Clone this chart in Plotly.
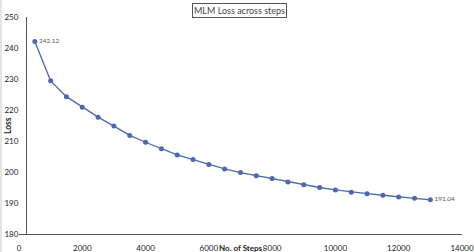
import plotly.graph_objects as go

steps = [500, 1000, 1500, 2000, 2500, 3000, 3500, 4000, 4500, 5000, 5500, 6000, 6500,
         7000, 7500, 8000, 8500, 9000, 9500, 10000, 10500, 11000, 11500, 12000, 12500, 13000]
loss = [242.12, 229.4, 224.3, 220.9, 217.7, 214.8, 211.8, 209.6, 207.5, 205.5, 204.0, 202.4, 201.0,
        199.8, 198.8, 197.9, 196.8, 195.9, 195.0, 194.2, 193.5, 193.0, 192.5, 191.9, 191.5, 191.04]
labels = ["242.12"] + [""] * (len(loss) - 2) + ["191.04"]
x_ticks = [0, 2000, 4000, 6000, 8000, 10000, 12000, 14000]
y_ticks = [180, 190, 200, 210, 220, 230, 240, 250]

W, H = 474, 252
L, R, T, B = 19, 12, 17, 18
pw = W - L - R
ph = H - T - B
axis_x = (26 - L) / pw

font = "Lato, sans-serif"
tick_font = dict(size=8, color="#222222", family=font)
fig = go.Figure()
fig.add_trace(go.Scatter(
    x=steps, y=loss, mode="lines+markers+text",
    line=dict(color="#4a69b0", width=1.3),
    marker=dict(color="#4a69b0", size=5),
    text=labels, textposition="middle right",
    textfont=dict(size=6.5, color="#555555", family=font),
    cliponaxis=False,
))

fig.update_layout(
    template="none",
    width=W, height=H,
    margin=dict(l=L, r=R, t=T, b=B, pad=0),
    paper_bgcolor="white", plot_bgcolor="white",
    showlegend=False,
    xaxis=dict(range=[0, 14000], tickvals=x_ticks, ticktext=[str(v) for v in x_ticks],
               showgrid=False, zeroline=False, automargin=False, ticklabeloverflow="allow",
               showline=True, linecolor="#555555", linewidth=1.2,
               ticks="outside", ticklen=6, tickcolor="rgba(0,0,0,0)", tickfont=tick_font),
    yaxis=dict(range=[180, 250], tickvals=y_ticks, ticktext=[str(v) for v in y_ticks],
               showgrid=False, zeroline=False, automargin=False, ticklabeloverflow="allow",
               anchor="free", position=axis_x,
               showline=True, linecolor="#555555", linewidth=1.2,
               ticks="outside", ticklen=6, tickcolor="rgba(0,0,0,0)", tickfont=tick_font),
    shapes=[
        dict(type="line", xref="paper", yref="paper", x0=-(L - 1) / pw, x1=-(L - 1) / pw,
             y0=-B / ph, y1=1 + T / ph, line=dict(color="#e4e4e4", width=2)),
    ],
    annotations=[
        dict(text="MLM Loss across steps", xref="paper", yref="paper",
             x=(239 - L) / pw, y=1 + (T - 11) / ph, xanchor="center", yanchor="middle",
             showarrow=False, font=dict(size=9, color="#444444", family=font),
             bordercolor="#555555", borderwidth=1, borderpad=1, bgcolor="white"),
        dict(text="<b>No. of Steps</b>", xref="paper", yref="paper",
             x=(241 - L) / pw, y=-(247.5 - (T + ph)) / ph, xanchor="center", yanchor="middle",
             showarrow=False, font=dict(size=8, color="#222222", family=font)),
        dict(text="<b>Loss</b>", xref="paper", yref="paper", textangle=-90,
             x=-(L - 8) / pw, y=1 - (126 - T) / ph, xanchor="center", yanchor="middle",
             showarrow=False, font=dict(size=8.5, color="#222222", family=font)),
    ],
)

fig.write_html("out.html")
